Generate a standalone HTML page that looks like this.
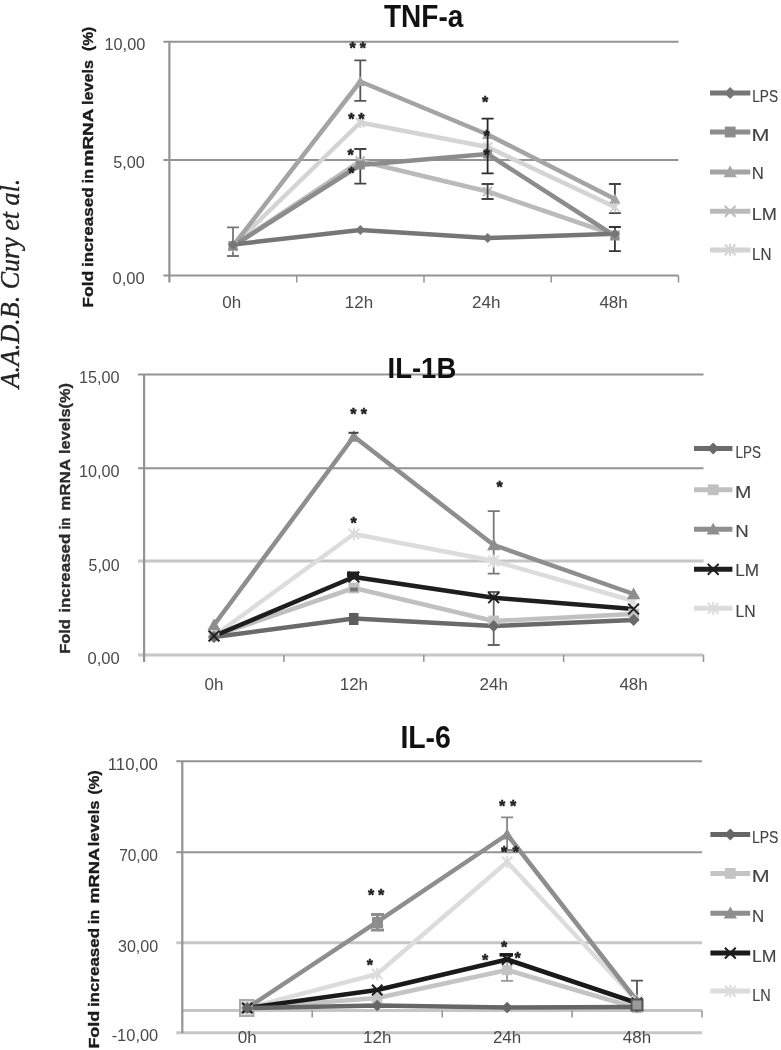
<!DOCTYPE html><html><head><meta charset="utf-8"><title>Figure</title><style>
html,body{margin:0;padding:0;background:#fff;width:781px;height:1050px;overflow:hidden}
svg{display:block;filter:blur(0.45px)}text{font-family:"Liberation Sans",sans-serif}
.serif{font-family:"Liberation Serif",serif;font-style:italic}
</style></head><body>
<svg width="781" height="1050" viewBox="0 0 781 1050">
<text transform="translate(18.60,388.37) rotate(-90)" font-size="26.5" fill="#222" textLength="209.69" lengthAdjust="spacingAndGlyphs" class="serif" stroke="#222" stroke-width="0.35">A.A.D.B. Cury et al.</text>
<line x1="163.4" y1="41.8" x2="678.5" y2="41.8" stroke="#939393" stroke-width="2"/>
<text x="104.48" y="50.30" font-size="17" fill="#4a4a4a" textLength="40.84" lengthAdjust="spacingAndGlyphs">10,00</text>
<line x1="163.4" y1="160" x2="678.5" y2="160" stroke="#939393" stroke-width="2"/>
<text x="113.25" y="168.00" font-size="17" fill="#4a4a4a" textLength="31.58" lengthAdjust="spacingAndGlyphs">5,00</text>
<line x1="163.4" y1="275.5" x2="678.5" y2="275.5" stroke="#939393" stroke-width="2"/>
<text x="112.54" y="283.80" font-size="17" fill="#4a4a4a" textLength="32.31" lengthAdjust="spacingAndGlyphs">0,00</text>
<line x1="169.4" y1="41.8" x2="169.4" y2="282.5" stroke="#939393" stroke-width="2.2"/>
<line x1="296.7" y1="275.5" x2="296.7" y2="282.5" stroke="#939393" stroke-width="1.5"/>
<line x1="424.0" y1="275.5" x2="424.0" y2="282.5" stroke="#939393" stroke-width="1.5"/>
<line x1="551.2" y1="275.5" x2="551.2" y2="282.5" stroke="#939393" stroke-width="1.5"/>
<line x1="678.5" y1="275.5" x2="678.5" y2="282.5" stroke="#939393" stroke-width="1.5"/>
<text x="231.7" y="308.3" text-anchor="middle" font-size="17" fill="#4a4a4a">0h</text>
<text x="359.0" y="308.3" text-anchor="middle" font-size="17" fill="#4a4a4a">12h</text>
<text x="486.3" y="308.3" text-anchor="middle" font-size="17" fill="#4a4a4a">24h</text>
<text x="613.6" y="308.3" text-anchor="middle" font-size="17" fill="#4a4a4a">48h</text>
<text x="384.02" y="26.80" font-size="31.5" font-weight="bold" fill="#111" textLength="79.29" lengthAdjust="spacingAndGlyphs">TNF-a</text>
<text transform="translate(93.10,307.78) rotate(-90)" font-size="15.5" font-weight="bold" fill="#1a1a1a" textLength="37.03" lengthAdjust="spacingAndGlyphs" stroke="#1a1a1a" stroke-width="0.35">Fold</text>
<text transform="translate(93.10,267.10) rotate(-90)" font-size="15.5" font-weight="bold" fill="#1a1a1a" textLength="79.80" lengthAdjust="spacingAndGlyphs" stroke="#1a1a1a" stroke-width="0.35">increased</text>
<text transform="translate(93.10,183.56) rotate(-90)" font-size="15.5" font-weight="bold" fill="#1a1a1a" textLength="14.78" lengthAdjust="spacingAndGlyphs" stroke="#1a1a1a" stroke-width="0.35">in</text>
<text transform="translate(93.10,166.43) rotate(-90)" font-size="15.5" font-weight="bold" fill="#1a1a1a" textLength="57.87" lengthAdjust="spacingAndGlyphs" stroke="#1a1a1a" stroke-width="0.35">mRNA</text>
<text transform="translate(93.10,104.94) rotate(-90)" font-size="15.5" font-weight="bold" fill="#1a1a1a" textLength="45.09" lengthAdjust="spacingAndGlyphs" stroke="#1a1a1a" stroke-width="0.35">levels</text>
<text transform="translate(93.10,50.98) rotate(-90)" font-size="15.5" font-weight="bold" fill="#1a1a1a" textLength="24.16" lengthAdjust="spacingAndGlyphs" stroke="#1a1a1a" stroke-width="0.35">(%)</text>
<path d="M233.0 227.3V256M227.0 227.3H239.0M227.0 256H239.0" stroke="#777" stroke-width="1.8" fill="none"/>
<path d="M360.3 60.4V100.8M354.3 60.4H366.3M354.3 100.8H366.3" stroke="#555" stroke-width="1.8" fill="none"/>
<path d="M360.3 149V183.7M354.3 149H366.3M354.3 183.7H366.3" stroke="#444" stroke-width="1.8" fill="none"/>
<path d="M614.9 184V213.2M608.9 184H620.9M608.9 213.2H620.9" stroke="#444" stroke-width="1.8" fill="none"/>
<path d="M614.9 227V251.2M608.9 227H620.9M608.9 251.2H620.9" stroke="#333" stroke-width="1.8" fill="none"/>
<polyline points="233.0,246.0 360.3,122.5 487.6,147.0 614.9,207.0" fill="none" stroke="#d4d4d4" stroke-width="4.5" stroke-linejoin="round"/>
<polyline points="233.0,246.0 360.3,161.0 487.6,191.5 614.9,235.0" fill="none" stroke="#bababa" stroke-width="4.5" stroke-linejoin="round"/>
<polyline points="233.0,246.0 360.3,81.5 487.6,134.5 614.9,199.0" fill="none" stroke="#a4a4a4" stroke-width="4.5" stroke-linejoin="round"/>
<polyline points="233.0,246.0 360.3,165.0 487.6,154.0 614.9,236.0" fill="none" stroke="#8c8c8c" stroke-width="4.5" stroke-linejoin="round"/>
<polyline points="233.0,244.5 360.3,230.0 487.6,238.0 614.9,233.8" fill="none" stroke="#767676" stroke-width="4.5" stroke-linejoin="round"/>
<path d="M228.5 241.5L237.5 250.5M237.5 241.5L228.5 250.5M233.0 240.5L233.0 251.5" stroke="#d4d4d4" stroke-width="2"/>
<path d="M355.8 118.0L364.8 127.0M364.8 118.0L355.8 127.0M360.3 117.0L360.3 128.0" stroke="#d4d4d4" stroke-width="2"/>
<path d="M483.1 142.5L492.1 151.5M492.1 142.5L483.1 151.5M487.6 141.5L487.6 152.5" stroke="#d4d4d4" stroke-width="2"/>
<path d="M610.4 202.5L619.4 211.5M619.4 202.5L610.4 211.5M614.9 201.5L614.9 212.5" stroke="#d4d4d4" stroke-width="2"/>
<path d="M228.5 241.5L237.5 250.5M237.5 241.5L228.5 250.5" stroke="#bababa" stroke-width="2"/>
<path d="M355.8 156.5L364.8 165.5M364.8 156.5L355.8 165.5" stroke="#bababa" stroke-width="2"/>
<path d="M483.1 187.0L492.1 196.0M492.1 187.0L483.1 196.0" stroke="#bababa" stroke-width="2"/>
<path d="M610.4 230.5L619.4 239.5M619.4 230.5L610.4 239.5" stroke="#bababa" stroke-width="2"/>
<path d="M233.0 240.5L238.5 250.4L227.5 250.4Z" fill="#a4a4a4"/>
<path d="M360.3 76.0L365.8 85.9L354.8 85.9Z" fill="#a4a4a4"/>
<path d="M487.6 129.0L493.1 138.9L482.1 138.9Z" fill="#a4a4a4"/>
<path d="M614.9 193.5L620.4 203.4L609.4 203.4Z" fill="#a4a4a4"/>
<rect x="228.5" y="241.5" width="9.0" height="9.0" fill="#8c8c8c"/>
<rect x="355.8" y="160.5" width="9.0" height="9.0" fill="#8c8c8c"/>
<rect x="483.1" y="149.5" width="9.0" height="9.0" fill="#8c8c8c"/>
<rect x="610.4" y="231.5" width="9.0" height="9.0" fill="#8c8c8c"/>
<path d="M233.0 239.5L238.0 244.5L233.0 249.5L228.0 244.5Z" fill="#767676"/>
<path d="M360.3 225.0L365.3 230.0L360.3 235.0L355.3 230.0Z" fill="#767676"/>
<path d="M487.6 233.0L492.6 238.0L487.6 243.0L482.6 238.0Z" fill="#767676"/>
<path d="M614.9 228.8L619.9 233.8L614.9 238.8L609.9 233.8Z" fill="#767676"/>
<path d="M487.6 118.6V173.3M481.6 118.6H493.6M481.6 173.3H493.6" stroke="#2a2a2a" stroke-width="1.8" fill="none"/>
<path d="M487.6 184V199M481.6 184H493.6M481.6 199H493.6" stroke="#444" stroke-width="1.8" fill="none"/>
<text x="349.4" y="53.5" font-size="16" font-weight="bold" fill="#222" stroke="#222" stroke-width="0.5">*</text>
<text x="359.7" y="53.5" font-size="16" font-weight="bold" fill="#222" stroke="#222" stroke-width="0.5">*</text>
<text x="348.3" y="125.2" font-size="16" font-weight="bold" fill="#222" stroke="#222" stroke-width="0.5">*</text>
<text x="358.2" y="125.2" font-size="16" font-weight="bold" fill="#222" stroke="#222" stroke-width="0.5">*</text>
<text x="347.6" y="161.4" font-size="16" font-weight="bold" fill="#222" stroke="#222" stroke-width="0.5">*</text>
<text x="348.3" y="178.9" font-size="16" font-weight="bold" fill="#222" stroke="#222" stroke-width="0.5">*</text>
<text x="481.9" y="107.6" font-size="16" font-weight="bold" fill="#222" stroke="#222" stroke-width="0.5">*</text>
<text x="483.4" y="142.4" font-size="16" font-weight="bold" fill="#222" stroke="#222" stroke-width="0.5">*</text>
<text x="483.4" y="161.4" font-size="16" font-weight="bold" fill="#222" stroke="#222" stroke-width="0.5">*</text>
<line x1="710" y1="93" x2="750.3" y2="93" stroke="#767676" stroke-width="5"/>
<path d="M730.1 87.0L736.1 93.0L730.1 99.0L724.1 93.0Z" fill="#767676"/>
<text x="752.27" y="101.50" font-size="17" fill="#444" textLength="25.85" lengthAdjust="spacingAndGlyphs" stroke="#444" stroke-width="0.15">LPS</text>
<line x1="710" y1="132" x2="750.3" y2="132" stroke="#8c8c8c" stroke-width="5"/>
<rect x="724.8" y="126.6" width="10.8" height="10.8" fill="#8c8c8c"/>
<text x="751.42" y="140.50" font-size="17" fill="#444" textLength="17.97" lengthAdjust="spacingAndGlyphs" stroke="#444" stroke-width="0.15">M</text>
<line x1="710" y1="172" x2="750.3" y2="172" stroke="#a4a4a4" stroke-width="5"/>
<path d="M730.1 165.4L736.8 177.3L723.5 177.3Z" fill="#a4a4a4"/>
<text x="751.82" y="179.00" font-size="17" fill="#444" textLength="12.05" lengthAdjust="spacingAndGlyphs" stroke="#444" stroke-width="0.15">N</text>
<line x1="710" y1="211.3" x2="750.3" y2="211.3" stroke="#bababa" stroke-width="5"/>
<path d="M724.8 205.9L735.5 216.7M735.5 205.9L724.8 216.7" stroke="#bababa" stroke-width="2"/>
<text x="751.70" y="219.80" font-size="17" fill="#444" textLength="25.23" lengthAdjust="spacingAndGlyphs" stroke="#444" stroke-width="0.15">LM</text>
<line x1="710" y1="249.9" x2="750.3" y2="249.9" stroke="#d4d4d4" stroke-width="5"/>
<path d="M724.8 244.5L735.5 255.3M735.5 244.5L724.8 255.3M730.1 243.5L730.1 256.3" stroke="#d4d4d4" stroke-width="2"/>
<text x="751.94" y="260.00" font-size="17" fill="#444" textLength="19.53" lengthAdjust="spacingAndGlyphs" stroke="#444" stroke-width="0.15">LN</text>
<line x1="138.1" y1="374.4" x2="703.5" y2="374.4" stroke="#939393" stroke-width="2"/>
<text x="79.09" y="382.50" font-size="17" fill="#4a4a4a" textLength="40.52" lengthAdjust="spacingAndGlyphs">15,00</text>
<line x1="138.1" y1="468.3" x2="703.5" y2="468.3" stroke="#939393" stroke-width="2"/>
<text x="79.09" y="476.80" font-size="17" fill="#4a4a4a" textLength="40.52" lengthAdjust="spacingAndGlyphs">10,00</text>
<line x1="138.1" y1="561" x2="703.5" y2="561" stroke="#c6c6c6" stroke-width="3"/>
<text x="88.56" y="571.30" font-size="17" fill="#4a4a4a" textLength="31.06" lengthAdjust="spacingAndGlyphs">5,00</text>
<line x1="138.1" y1="655" x2="703.5" y2="655" stroke="#c6c6c6" stroke-width="3"/>
<text x="87.44" y="664.30" font-size="17" fill="#4a4a4a" textLength="32.20" lengthAdjust="spacingAndGlyphs">0,00</text>
<line x1="144.1" y1="374.4" x2="144.1" y2="662" stroke="#939393" stroke-width="2.2"/>
<line x1="283.9" y1="655" x2="283.9" y2="662" stroke="#939393" stroke-width="1.5"/>
<line x1="423.8" y1="655" x2="423.8" y2="662" stroke="#939393" stroke-width="1.5"/>
<line x1="563.6" y1="655" x2="563.6" y2="662" stroke="#939393" stroke-width="1.5"/>
<line x1="703.5" y1="655" x2="703.5" y2="662" stroke="#939393" stroke-width="1.5"/>
<text x="214.0" y="689.8" text-anchor="middle" font-size="17" fill="#4a4a4a">0h</text>
<text x="353.9" y="689.8" text-anchor="middle" font-size="17" fill="#4a4a4a">12h</text>
<text x="493.7" y="689.8" text-anchor="middle" font-size="17" fill="#4a4a4a">24h</text>
<text x="633.6" y="689.8" text-anchor="middle" font-size="17" fill="#4a4a4a">48h</text>
<text x="387.55" y="377.50" font-size="29.5" font-weight="bold" fill="#111" textLength="68.69" lengthAdjust="spacingAndGlyphs">IL-1B</text>
<text transform="translate(69.90,653.81) rotate(-90)" font-size="15.5" font-weight="bold" fill="#2a2a2a" textLength="34.68" lengthAdjust="spacingAndGlyphs" stroke="#2a2a2a" stroke-width="0.35">Fold</text>
<text transform="translate(69.90,612.68) rotate(-90)" font-size="15.5" font-weight="bold" fill="#2a2a2a" textLength="78.98" lengthAdjust="spacingAndGlyphs" stroke="#2a2a2a" stroke-width="0.35">increased</text>
<text transform="translate(69.90,529.43) rotate(-90)" font-size="15.5" font-weight="bold" fill="#2a2a2a" textLength="11.85" lengthAdjust="spacingAndGlyphs" stroke="#2a2a2a" stroke-width="0.35">in</text>
<text transform="translate(69.90,510.81) rotate(-90)" font-size="15.5" font-weight="bold" fill="#2a2a2a" textLength="51.99" lengthAdjust="spacingAndGlyphs" stroke="#2a2a2a" stroke-width="0.35">mRNA</text>
<text transform="translate(69.90,453.94) rotate(-90)" font-size="15.5" font-weight="bold" fill="#2a2a2a" textLength="70.87" lengthAdjust="spacingAndGlyphs" stroke="#2a2a2a" stroke-width="0.35">levels(%)</text>
<path d="M493.7 511.1V573.7M487.7 511.1H499.7M487.7 573.7H499.7" stroke="#777" stroke-width="1.8" fill="none"/>
<path d="M493.7 592V645M487.7 592H499.7M487.7 645H499.7" stroke="#666" stroke-width="1.8" fill="none"/>
<polyline points="214.0,636.0 353.9,534.0 493.7,561.0 633.6,601.0" fill="none" stroke="#dcdcdc" stroke-width="4.5" stroke-linejoin="round"/>
<polyline points="214.0,636.0 353.9,588.0 493.7,621.0 633.6,614.0" fill="none" stroke="#c0c0c0" stroke-width="4.5" stroke-linejoin="round"/>
<polyline points="214.0,637.0 353.9,618.6 493.7,626.0 633.6,620.0" fill="none" stroke="#6a6a6a" stroke-width="4.5" stroke-linejoin="round"/>
<polyline points="214.0,625.0 353.9,436.5 493.7,545.0 633.6,594.0" fill="none" stroke="#8e8e8e" stroke-width="4.5" stroke-linejoin="round"/>
<polyline points="214.0,636.0 353.9,577.0 493.7,597.7 633.6,609.0" fill="none" stroke="#1e1e1e" stroke-width="4.5" stroke-linejoin="round"/>
<path d="M208.6 630.6L219.4 641.4M219.4 630.6L208.6 641.4M214.0 629.6L214.0 642.4" stroke="#dcdcdc" stroke-width="2"/>
<path d="M348.5 528.6L359.3 539.4M359.3 528.6L348.5 539.4M353.9 527.6L353.9 540.4" stroke="#dcdcdc" stroke-width="2"/>
<path d="M488.3 555.6L499.1 566.4M499.1 555.6L488.3 566.4M493.7 554.6L493.7 567.4" stroke="#dcdcdc" stroke-width="2"/>
<path d="M628.2 595.6L639.0 606.4M639.0 595.6L628.2 606.4M633.6 594.6L633.6 607.4" stroke="#dcdcdc" stroke-width="2"/>
<rect x="208.6" y="630.6" width="10.8" height="10.8" fill="#c0c0c0"/>
<rect x="348.5" y="582.6" width="10.8" height="10.8" fill="#c0c0c0"/>
<rect x="488.3" y="615.6" width="10.8" height="10.8" fill="#c0c0c0"/>
<rect x="628.2" y="608.6" width="10.8" height="10.8" fill="#c0c0c0"/>
<path d="M214.0 631.0L220.0 637.0L214.0 643.0L208.0 637.0Z" fill="#6a6a6a"/>
<path d="M353.9 612.6L359.9 618.6L353.9 624.6L347.9 618.6Z" fill="#6a6a6a"/>
<path d="M493.7 620.0L499.7 626.0L493.7 632.0L487.7 626.0Z" fill="#6a6a6a"/>
<path d="M633.6 614.0L639.6 620.0L633.6 626.0L627.6 620.0Z" fill="#6a6a6a"/>
<path d="M214.0 618.4L220.6 630.3L207.4 630.3Z" fill="#8e8e8e"/>
<path d="M353.9 429.9L360.5 441.8L347.3 441.8Z" fill="#8e8e8e"/>
<path d="M493.7 538.4L500.3 550.3L487.1 550.3Z" fill="#8e8e8e"/>
<path d="M633.6 587.4L640.2 599.3L627.0 599.3Z" fill="#8e8e8e"/>
<path d="M208.6 630.6L219.4 641.4M219.4 630.6L208.6 641.4" stroke="#1e1e1e" stroke-width="2"/>
<path d="M348.5 571.6L359.3 582.4M359.3 571.6L348.5 582.4" stroke="#1e1e1e" stroke-width="2"/>
<path d="M488.3 592.3L499.1 603.1M499.1 592.3L488.3 603.1" stroke="#1e1e1e" stroke-width="2"/>
<path d="M628.2 603.6L639.0 614.4M639.0 603.6L628.2 614.4" stroke="#1e1e1e" stroke-width="2"/>
<path d="M348.5 432.8H358.5" stroke="#444" stroke-width="2"/>
<rect x="347" y="571.5" width="12" height="5.5" fill="#1e1e1e"/>
<rect x="349" y="613" width="9.5" height="12" fill="#5e5e5e"/>
<rect x="350" y="587.5" width="8" height="4" fill="#777"/>
<text x="350.3" y="419.9" font-size="16" font-weight="bold" fill="#222" stroke="#222" stroke-width="0.5">*</text>
<text x="360.7" y="419.9" font-size="16" font-weight="bold" fill="#222" stroke="#222" stroke-width="0.5">*</text>
<text x="350.5" y="528.5" font-size="16" font-weight="bold" fill="#222" stroke="#222" stroke-width="0.5">*</text>
<text x="496.6" y="493.1" font-size="16" font-weight="bold" fill="#222" stroke="#222" stroke-width="0.5">*</text>
<line x1="694" y1="448.6" x2="732.4" y2="448.6" stroke="#6a6a6a" stroke-width="5"/>
<path d="M713.2 442.6L719.2 448.6L713.2 454.6L707.2 448.6Z" fill="#6a6a6a"/>
<text x="735.59" y="458.10" font-size="17" fill="#444" textLength="25.42" lengthAdjust="spacingAndGlyphs" stroke="#444" stroke-width="0.15">LPS</text>
<line x1="694" y1="489.8" x2="732.4" y2="489.8" stroke="#c0c0c0" stroke-width="5"/>
<rect x="707.8" y="484.4" width="10.8" height="10.8" fill="#c0c0c0"/>
<text x="735.08" y="498.00" font-size="17" fill="#444" textLength="16.35" lengthAdjust="spacingAndGlyphs" stroke="#444" stroke-width="0.15">M</text>
<line x1="694" y1="529.3" x2="732.4" y2="529.3" stroke="#8e8e8e" stroke-width="5"/>
<path d="M713.2 522.7L719.8 534.6L706.6 534.6Z" fill="#8e8e8e"/>
<text x="735.16" y="536.60" font-size="17" fill="#444" textLength="13.47" lengthAdjust="spacingAndGlyphs" stroke="#444" stroke-width="0.15">N</text>
<line x1="694" y1="569.3" x2="732.4" y2="569.3" stroke="#1e1e1e" stroke-width="5"/>
<path d="M707.8 563.9L718.6 574.7M718.6 563.9L707.8 574.7" stroke="#1e1e1e" stroke-width="2"/>
<text x="735.28" y="576.20" font-size="17" fill="#444" textLength="23.86" lengthAdjust="spacingAndGlyphs" stroke="#444" stroke-width="0.15">LM</text>
<line x1="694" y1="608.3" x2="732.4" y2="608.3" stroke="#dcdcdc" stroke-width="5"/>
<path d="M707.8 602.9L718.6 613.7M718.6 602.9L707.8 613.7M713.2 601.9L713.2 614.7" stroke="#dcdcdc" stroke-width="2"/>
<text x="735.40" y="617.20" font-size="17" fill="#444" textLength="20.11" lengthAdjust="spacingAndGlyphs" stroke="#444" stroke-width="0.15">LN</text>
<line x1="176.3" y1="761.3" x2="702" y2="761.3" stroke="#939393" stroke-width="2"/>
<text x="107.64" y="770.00" font-size="17" fill="#4a4a4a" textLength="50.33" lengthAdjust="spacingAndGlyphs">110,00</text>
<line x1="176.3" y1="852.2" x2="702" y2="852.2" stroke="#939393" stroke-width="2"/>
<text x="119.13" y="860.80" font-size="17" fill="#4a4a4a" textLength="38.76" lengthAdjust="spacingAndGlyphs">70,00</text>
<line x1="176.3" y1="942.8" x2="702" y2="942.8" stroke="#c6c6c6" stroke-width="3"/>
<text x="118.00" y="952.00" font-size="17" fill="#4a4a4a" textLength="40.21" lengthAdjust="spacingAndGlyphs">30,00</text>
<line x1="176.3" y1="1032.8" x2="702" y2="1032.8" stroke="#c6c6c6" stroke-width="3"/>
<text x="111.66" y="1040.60" font-size="17" fill="#4a4a4a" textLength="46.56" lengthAdjust="spacingAndGlyphs">-10,00</text>
<line x1="182.3" y1="1010.5" x2="702" y2="1010.5" stroke="#c6c6c6" stroke-width="3"/>
<line x1="182.3" y1="761.3" x2="182.3" y2="1033" stroke="#939393" stroke-width="2.2"/>
<line x1="312.2" y1="1010.5" x2="312.2" y2="1017.5" stroke="#939393" stroke-width="1.5"/>
<line x1="442.2" y1="1010.5" x2="442.2" y2="1017.5" stroke="#939393" stroke-width="1.5"/>
<line x1="572.1" y1="1010.5" x2="572.1" y2="1017.5" stroke="#939393" stroke-width="1.5"/>
<line x1="702.0" y1="1010.5" x2="702.0" y2="1017.5" stroke="#939393" stroke-width="1.5"/>
<text x="247.3" y="1043.3" text-anchor="middle" font-size="17" fill="#4a4a4a">0h</text>
<text x="377.2" y="1043.3" text-anchor="middle" font-size="17" fill="#4a4a4a">12h</text>
<text x="507.1" y="1043.3" text-anchor="middle" font-size="17" fill="#4a4a4a">24h</text>
<text x="637.0" y="1043.3" text-anchor="middle" font-size="17" fill="#4a4a4a">48h</text>
<text x="400.38" y="748.20" font-size="31.5" font-weight="bold" fill="#111" textLength="50.52" lengthAdjust="spacingAndGlyphs">IL-6</text>
<text transform="translate(98.70,1048.61) rotate(-90)" font-size="15.5" font-weight="bold" fill="#1a1a1a" textLength="37.89" lengthAdjust="spacingAndGlyphs" stroke="#1a1a1a" stroke-width="0.35">Fold</text>
<text transform="translate(98.70,1007.09) rotate(-90)" font-size="15.5" font-weight="bold" fill="#1a1a1a" textLength="79.08" lengthAdjust="spacingAndGlyphs" stroke="#1a1a1a" stroke-width="0.35">increased</text>
<text transform="translate(98.70,924.26) rotate(-90)" font-size="15.5" font-weight="bold" fill="#1a1a1a" textLength="14.78" lengthAdjust="spacingAndGlyphs" stroke="#1a1a1a" stroke-width="0.35">in</text>
<text transform="translate(98.70,903.58) rotate(-90)" font-size="15.5" font-weight="bold" fill="#1a1a1a" textLength="55.70" lengthAdjust="spacingAndGlyphs" stroke="#1a1a1a" stroke-width="0.35">mRNA</text>
<text transform="translate(98.70,846.35) rotate(-90)" font-size="15.5" font-weight="bold" fill="#1a1a1a" textLength="45.82" lengthAdjust="spacingAndGlyphs" stroke="#1a1a1a" stroke-width="0.35">levels</text>
<text transform="translate(98.70,794.58) rotate(-90)" font-size="15.5" font-weight="bold" fill="#1a1a1a" textLength="24.16" lengthAdjust="spacingAndGlyphs" stroke="#1a1a1a" stroke-width="0.35">(%)</text>
<path d="M507.1 817.3V850M501.1 817.3H513.1M501.1 850H513.1" stroke="#888" stroke-width="1.8" fill="none"/>
<path d="M507.1 954.6V980.8M501.1 954.6H513.1M501.1 980.8H513.1" stroke="#999" stroke-width="1.8" fill="none"/>
<path d="M637.0 980.7V1000M631.0 980.7H643.0M631.0 1000H643.0" stroke="#555" stroke-width="1.8" fill="none"/>
<rect x="240" y="1000" width="13.5" height="16" fill="#d8d8d8" stroke="#aaa" stroke-width="2"/>
<polyline points="247.3,1008.0 377.2,974.0 507.1,862.0 637.0,1001.0" fill="none" stroke="#dcdcdc" stroke-width="4.5" stroke-linejoin="round"/>
<polyline points="247.3,1008.0 377.2,998.0 507.1,970.0 637.0,1008.0" fill="none" stroke="#c4c4c4" stroke-width="4.5" stroke-linejoin="round"/>
<polyline points="247.3,1008.0 377.2,921.8 507.1,834.5 637.0,1001.0" fill="none" stroke="#8e8e8e" stroke-width="4.5" stroke-linejoin="round"/>
<polyline points="247.3,1008.0 377.2,990.0 507.1,959.5 637.0,1003.0" fill="none" stroke="#1a1a1a" stroke-width="4.5" stroke-linejoin="round"/>
<polyline points="247.3,1008.0 377.2,1005.5 507.1,1007.5 637.0,1007.0" fill="none" stroke="#666666" stroke-width="4.5" stroke-linejoin="round"/>
<path d="M242.1 1002.8L252.4 1013.2M252.4 1002.8L242.1 1013.2M247.3 1001.8L247.3 1014.2" stroke="#dcdcdc" stroke-width="2"/>
<path d="M372.0 968.8L382.4 979.2M382.4 968.8L372.0 979.2M377.2 967.8L377.2 980.2" stroke="#dcdcdc" stroke-width="2"/>
<path d="M501.9 856.8L512.3 867.2M512.3 856.8L501.9 867.2M507.1 855.8L507.1 868.2" stroke="#dcdcdc" stroke-width="2"/>
<path d="M631.9 995.8L642.2 1006.2M642.2 995.8L631.9 1006.2M637.0 994.8L637.0 1007.2" stroke="#dcdcdc" stroke-width="2"/>
<rect x="242.1" y="1002.8" width="10.3" height="10.3" fill="#c4c4c4"/>
<rect x="372.0" y="992.8" width="10.3" height="10.3" fill="#c4c4c4"/>
<rect x="501.9" y="964.8" width="10.3" height="10.3" fill="#c4c4c4"/>
<rect x="631.9" y="1002.8" width="10.3" height="10.3" fill="#c4c4c4"/>
<path d="M247.3 1001.7L253.6 1013.1L240.9 1013.1Z" fill="#8e8e8e"/>
<path d="M377.2 915.5L383.5 926.9L370.9 926.9Z" fill="#8e8e8e"/>
<path d="M507.1 828.2L513.4 839.6L500.8 839.6Z" fill="#8e8e8e"/>
<path d="M637.0 994.7L643.4 1006.1L630.7 1006.1Z" fill="#8e8e8e"/>
<path d="M242.1 1002.8L252.4 1013.2M252.4 1002.8L242.1 1013.2" stroke="#1a1a1a" stroke-width="2"/>
<path d="M372.0 984.8L382.4 995.2M382.4 984.8L372.0 995.2" stroke="#1a1a1a" stroke-width="2"/>
<path d="M501.9 954.3L512.3 964.7M512.3 954.3L501.9 964.7" stroke="#1a1a1a" stroke-width="2"/>
<path d="M631.9 997.8L642.2 1008.2M642.2 997.8L631.9 1008.2" stroke="#1a1a1a" stroke-width="2"/>
<path d="M247.3 1002.2L253.0 1008.0L247.3 1013.8L241.5 1008.0Z" fill="#666666"/>
<path d="M377.2 999.8L382.9 1005.5L377.2 1011.2L371.4 1005.5Z" fill="#666666"/>
<path d="M507.1 1001.8L512.9 1007.5L507.1 1013.2L501.4 1007.5Z" fill="#666666"/>
<path d="M637.0 1001.2L642.8 1007.0L637.0 1012.8L631.3 1007.0Z" fill="#666666"/>
<path d="M371 914.5H384M377.5 914.5V930M371 930H384" stroke="#8e8e8e" stroke-width="3"/>
<rect x="372" y="917" width="11" height="11" fill="#8e8e8e"/>
<path d="M499.5 954.8H513" stroke="#1a1a1a" stroke-width="3.5"/>
<rect x="631.5" y="999.5" width="11" height="11" fill="#9a9a9a" stroke="#555" stroke-width="2"/>
<text x="367.9" y="900.5" font-size="16" font-weight="bold" fill="#222" stroke="#222" stroke-width="0.5">*</text>
<text x="377.9" y="900.5" font-size="16" font-weight="bold" fill="#222" stroke="#222" stroke-width="0.5">*</text>
<text x="366.8" y="971.2" font-size="16" font-weight="bold" fill="#222" stroke="#222" stroke-width="0.5">*</text>
<text x="498.9" y="812.3" font-size="16" font-weight="bold" fill="#222" stroke="#222" stroke-width="0.5">*</text>
<text x="509.9" y="812.3" font-size="16" font-weight="bold" fill="#222" stroke="#222" stroke-width="0.5">*</text>
<text x="500.9" y="857.7" font-size="16" font-weight="bold" fill="#222" stroke="#222" stroke-width="0.5">*</text>
<text x="512.4" y="857.7" font-size="16" font-weight="bold" fill="#222" stroke="#222" stroke-width="0.5">*</text>
<text x="500.9" y="952.7" font-size="16" font-weight="bold" fill="#222" stroke="#222" stroke-width="0.5">*</text>
<text x="482.1" y="965.7" font-size="16" font-weight="bold" fill="#222" stroke="#222" stroke-width="0.5">*</text>
<text x="514.6" y="963.6" font-size="16" font-weight="bold" fill="#222" stroke="#222" stroke-width="0.5">*</text>
<line x1="710.4" y1="834.5" x2="750.2" y2="834.5" stroke="#666666" stroke-width="5"/>
<path d="M730.3 828.5L736.3 834.5L730.3 840.5L724.3 834.5Z" fill="#666666"/>
<text x="751.94" y="842.50" font-size="17" fill="#444" textLength="26.49" lengthAdjust="spacingAndGlyphs" stroke="#444" stroke-width="0.15">LPS</text>
<line x1="710.4" y1="873.4" x2="750.2" y2="873.4" stroke="#c4c4c4" stroke-width="5"/>
<rect x="724.9" y="868.0" width="10.8" height="10.8" fill="#c4c4c4"/>
<text x="751.73" y="882.00" font-size="17" fill="#444" textLength="17.85" lengthAdjust="spacingAndGlyphs" stroke="#444" stroke-width="0.15">M</text>
<line x1="710.4" y1="913.2" x2="750.2" y2="913.2" stroke="#8e8e8e" stroke-width="5"/>
<path d="M730.3 906.6L736.9 918.5L723.7 918.5Z" fill="#8e8e8e"/>
<text x="752.11" y="922.20" font-size="17" fill="#444" textLength="12.18" lengthAdjust="spacingAndGlyphs" stroke="#444" stroke-width="0.15">N</text>
<line x1="710.4" y1="953.1" x2="750.2" y2="953.1" stroke="#1a1a1a" stroke-width="5"/>
<path d="M724.9 947.7L735.7 958.5M735.7 947.7L724.9 958.5" stroke="#1a1a1a" stroke-width="2"/>
<text x="752.04" y="961.50" font-size="17" fill="#444" textLength="24.55" lengthAdjust="spacingAndGlyphs" stroke="#444" stroke-width="0.15">LM</text>
<line x1="710.4" y1="991.1" x2="750.2" y2="991.1" stroke="#dcdcdc" stroke-width="5"/>
<path d="M724.9 985.7L735.7 996.5M735.7 985.7L724.9 996.5M730.3 984.7L730.3 997.5" stroke="#dcdcdc" stroke-width="2"/>
<text x="752.31" y="1001.00" font-size="17" fill="#444" textLength="18.50" lengthAdjust="spacingAndGlyphs" stroke="#444" stroke-width="0.15">LN</text>
</svg></body></html>
